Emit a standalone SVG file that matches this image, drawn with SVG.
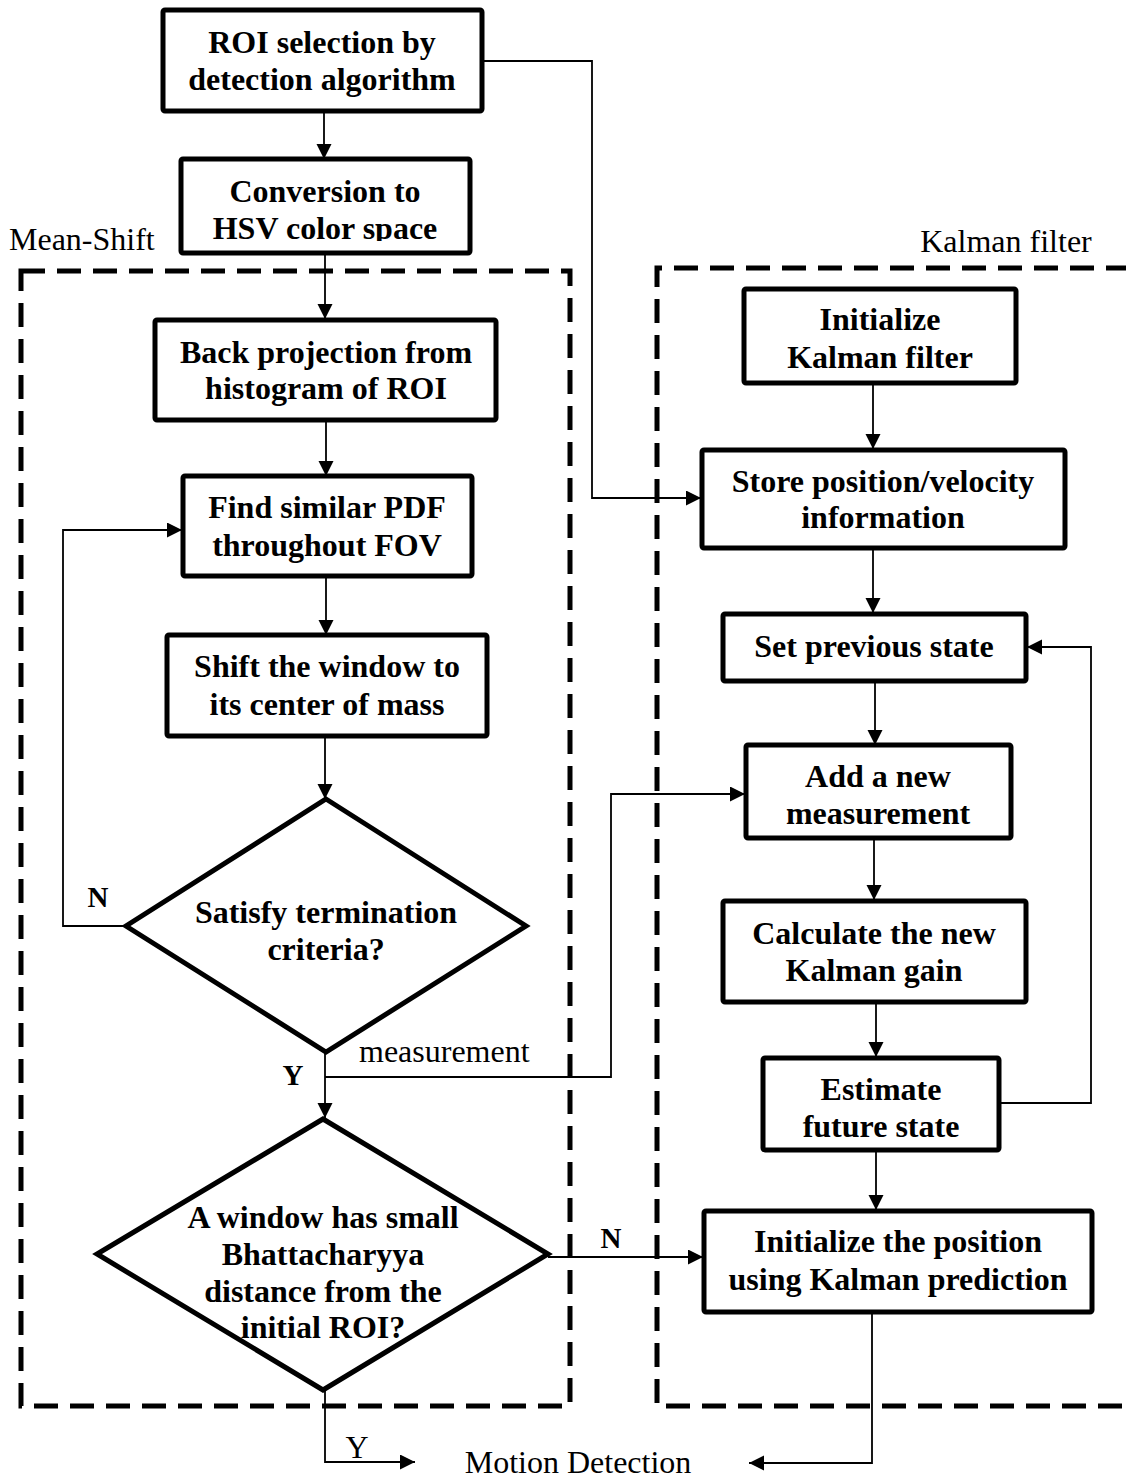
<svg xmlns="http://www.w3.org/2000/svg" width="1126" height="1479" viewBox="0 0 1126 1479">
  <style>
    .box { fill: #fff; stroke: #000; stroke-width: 5; }
    .dec { fill: #fff; stroke: #000; stroke-width: 5; stroke-linejoin: miter; }
    .t { font-family: "Liberation Serif", "Times New Roman", serif; font-size: 32px; font-weight: bold; text-anchor: middle; fill: #000; }
    .lbl { font-family: "Liberation Serif", "Times New Roman", serif; font-size: 32px; fill: #000; }
    .lb { font-family: "Liberation Serif", "Times New Roman", serif; font-size: 29px; font-weight: bold; fill: #000; }
    .wire { fill: none; stroke: #000; stroke-width: 1.8; }
    .frame { fill: none; stroke: #000; stroke-width: 5; stroke-dasharray: 24 12; }
  </style>
  <defs>
    <marker id="arr" markerUnits="userSpaceOnUse" markerWidth="16" markerHeight="16" refX="15" refY="7.5" orient="auto">
      <path d="M0,0 L15,7.5 L0,15 z" fill="#000"/>
    </marker>
    <clipPath id="clipHsv">
      <rect x="181" y="159" width="289" height="82"/>
    </clipPath>
  </defs>
  <rect width="1126" height="1479" fill="#fff"/>

  <!-- group frames -->
  <g id="frames">
    <rect class="frame" x="21" y="271" width="549" height="1135"/>
    <path class="frame" d="M1130,268 L657,268 L657,1406 L1130,1406"/>
    <text class="lbl" x="9" y="250">Mean-Shift</text>
    <text class="lbl" x="1006" y="252" text-anchor="middle">Kalman filter</text>
  </g>

  <!-- connectors -->
  <g id="connectors">
    <path class="wire" d="M324,111 V159" marker-end="url(#arr)"/>
    <path class="wire" d="M325,253 V319" marker-end="url(#arr)"/>
    <path class="wire" d="M326,420 V476" marker-end="url(#arr)"/>
    <path class="wire" d="M326,576 V635" marker-end="url(#arr)"/>
    <path class="wire" d="M325,736 V799" marker-end="url(#arr)"/>
    <path class="wire" d="M325,1052 V1118" marker-end="url(#arr)"/>
    <path class="wire" d="M126,926 H63 V530 H182" marker-end="url(#arr)"/>
    <path class="wire" d="M325,1077 H611 V794 H745" marker-end="url(#arr)"/>
    <path class="wire" d="M482,61 H592 V498 H701" marker-end="url(#arr)"/>
    <path class="wire" d="M873,383 V449" marker-end="url(#arr)"/>
    <path class="wire" d="M873,548 V613" marker-end="url(#arr)"/>
    <path class="wire" d="M875,681 V745" marker-end="url(#arr)"/>
    <path class="wire" d="M874,838 V900" marker-end="url(#arr)"/>
    <path class="wire" d="M876,1002 V1057" marker-end="url(#arr)"/>
    <path class="wire" d="M876,1150 V1210" marker-end="url(#arr)"/>
    <path class="wire" d="M999,1103 H1091 V647 H1027" marker-end="url(#arr)"/>
    <path class="wire" d="M548,1257 H703" marker-end="url(#arr)"/>
    <path class="wire" d="M325,1390 V1462 H415" marker-end="url(#arr)"/>
    <path class="wire" d="M872,1312 V1463 H749" marker-end="url(#arr)"/>
    <text class="lb" x="98" y="907" text-anchor="middle">N</text>
    <text class="lb" x="293" y="1085" text-anchor="middle">Y</text>
    <text class="lb" x="611" y="1248" text-anchor="middle">N</text>
    <text class="lbl" x="359" y="1062">measurement</text>
    <text class="lbl" x="357" y="1458" text-anchor="middle">Y</text>
  </g>

  <!-- Mean-Shift side -->
  <g id="roi">
    <rect class="box" x="163" y="10" width="319" height="101" rx="2"/>
    <text class="t" x="322" y="53">ROI selection by</text>
    <text class="t" x="322" y="90">detection algorithm</text>
  </g>
  <g id="hsv">
    <rect class="box" x="181" y="159" width="289" height="94" rx="2"/>
    <g clip-path="url(#clipHsv)">
      <text class="t" x="325" y="202">Conversion to</text>
      <text class="t" x="325" y="239">HSV color space</text>
    </g>
  </g>
  <g id="backproj">
    <rect class="box" x="155" y="320" width="341" height="100" rx="2"/>
    <text class="t" x="326" y="363">Back projection from</text>
    <text class="t" x="326" y="399">histogram of ROI</text>
  </g>
  <g id="findpdf">
    <rect class="box" x="183" y="476" width="289" height="100" rx="2"/>
    <text class="t" x="327" y="518">Find similar PDF</text>
    <text class="t" x="327" y="556">throughout FOV</text>
  </g>
  <g id="shift">
    <rect class="box" x="167" y="635" width="320" height="101" rx="2"/>
    <text class="t" x="327" y="677">Shift the window to</text>
    <text class="t" x="327" y="715">its center of mass</text>
  </g>
  <g id="terminate">
    <polygon class="dec" points="326,799 526,926 326,1052 126,926"/>
    <text class="t" x="326" y="923">Satisfy termination</text>
    <text class="t" x="326" y="960">criteria?</text>
  </g>
  <g id="bhatt">
    <text class="t" x="323" y="1228">A window has small</text>
    <text class="t" x="323" y="1265">Bhattacharyya</text>
    <text class="t" x="323" y="1302">distance from the</text>
    <text class="t" x="323" y="1338">initial ROI?</text>
    <polygon points="323,1119 548,1254 323,1390 97,1254" fill="none" stroke="#000" stroke-width="5"/>
  </g>

  <!-- Kalman side -->
  <g id="kinit">
    <rect class="box" x="744" y="289" width="272" height="94" rx="2"/>
    <text class="t" x="880" y="330">Initialize</text>
    <text class="t" x="880" y="368">Kalman filter</text>
  </g>
  <g id="store">
    <rect class="box" x="702" y="450" width="363" height="98" rx="2"/>
    <text class="t" x="883" y="492">Store position/velocity</text>
    <text class="t" x="883" y="528">information</text>
  </g>
  <g id="prevstate">
    <rect class="box" x="723" y="614" width="303" height="67" rx="2"/>
    <text class="t" x="874" y="657">Set previous state</text>
  </g>
  <g id="measure">
    <rect class="box" x="746" y="745" width="265" height="93" rx="2"/>
    <text class="t" x="878" y="787">Add a new</text>
    <text class="t" x="878" y="824">measurement</text>
  </g>
  <g id="gain">
    <rect class="box" x="723" y="901" width="303" height="101" rx="2"/>
    <text class="t" x="874" y="944">Calculate the new</text>
    <text class="t" x="874" y="981">Kalman gain</text>
  </g>
  <g id="estimate">
    <rect class="box" x="763" y="1058" width="236" height="92" rx="2"/>
    <text class="t" x="881" y="1100">Estimate</text>
    <text class="t" x="881" y="1137">future state</text>
  </g>
  <g id="initpos">
    <rect class="box" x="704" y="1211" width="388" height="101" rx="2"/>
    <text class="t" x="898" y="1252">Initialize the position</text>
    <text class="t" x="898" y="1290">using Kalman prediction</text>
  </g>

  <g id="output">
    <text class="lbl" x="578" y="1473" text-anchor="middle" font-size="34">Motion Detection</text>
  </g>
</svg>
